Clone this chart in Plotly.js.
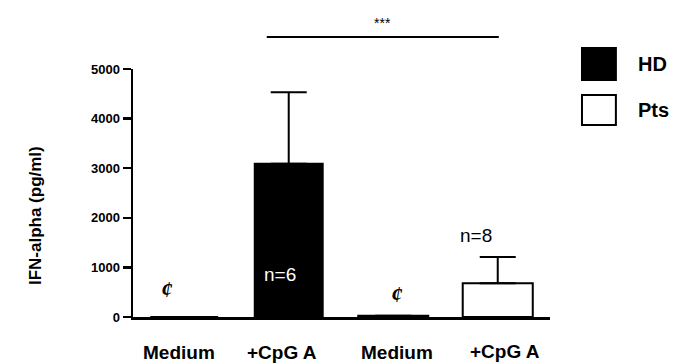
<!DOCTYPE html>
<html>
<head>
<meta charset="utf-8">
<script src="https://cdn.plot.ly/plotly-3.0.1.min.js"></script>
<style>html,body{margin:0;padding:0;background:#fff;}#chart{width:673px;height:363px;}</style>
</head>
<body>
<div id="chart"></div>
<script>
// ---- data ----
var groups = ["HD", "Pts"];
var categories = ["Medium", "+CpG A", "Medium", "+CpG A"];
var hdPositions = [0, 1];
var ptsPositions = [2, 3];
var hdValues = [0, 3090];
var hdErrors = [0, 1440];
var ptsValues = [25, 680];
var ptsErrors = [0, 530];
var noErrorBelow = [0, 0];
var nLabels = ["n=6", "n=8"];
var notDetected = "¢";
var sigLabel = "***";
var yTickVals = [0, 1000, 2000, 3000, 4000, 5000];
var yTitle = "IFN-alpha (pg/ml)";

var traces = [
  {
    type: "bar", name: groups[0], x: hdPositions, y: hdValues, width: 0.65,
    marker: {color: "#000", line: {color: "#000", width: 2}},
    error_y: {type: "data", symmetric: false, array: hdErrors, arrayminus: noErrorBelow, visible: true, color: "#000", thickness: 2, width: 18},
    showlegend: false
  },
  {
    type: "bar", name: groups[1], x: ptsPositions, y: ptsValues, width: 0.67,
    marker: {color: "#fff", line: {color: "#000", width: 2}},
    error_y: {type: "data", symmetric: false, array: ptsErrors, arrayminus: noErrorBelow, visible: true, color: "#000", thickness: 2, width: 18},
    showlegend: false
  }
];

var allPos = hdPositions.concat(ptsPositions);
var labelShift = [-5, -7, 4, 7];
var labelY = [-35, -35, -35, -34];
var annotations = [];
categories.forEach(function (c, i) {
  annotations.push({
    x: allPos[i], y: 0, xref: "x", yref: "y", text: c, showarrow: false, yanchor: "middle", borderpad: 0,
    xshift: labelShift[i], yshift: labelY[i],
    font: {family: "Liberation Sans, Arial", size: 19, color: "#000", weight: "bold"}
  });
});
// not detected markers
annotations.push({x: hdPositions[0], y: 545, xref: "x", yref: "y", text: notDetected, showarrow: false, xshift: -17, yanchor: "middle",
  font: {family: "Liberation Serif", size: 23, color: "#000", weight: "bold", style: "italic"}});
annotations.push({x: ptsPositions[0], y: 445, xref: "x", yref: "y", text: notDetected, showarrow: false, xshift: 4, yanchor: "middle",
  font: {family: "Liberation Serif", size: 23, color: "#000", weight: "bold", style: "italic"}});
// n labels
annotations.push({x: hdPositions[1], y: 850, xref: "x", yref: "y", text: nLabels[0], showarrow: false, xshift: -9, yanchor: "middle",
  font: {family: "Liberation Sans, Arial", size: 19, color: "#fff"}});
annotations.push({x: ptsPositions[1], y: 1650, xref: "x", yref: "y", text: nLabels[1], showarrow: false, xshift: -22, yanchor: "middle",
  font: {family: "Liberation Sans, Arial", size: 19, color: "#000"}});
// significance
annotations.push({x: 1.9, y: 1.185, xref: "x", yref: "paper", text: sigLabel, showarrow: false, yanchor: "middle",
  font: {family: "Liberation Sans, Arial", size: 14, color: "#000"}});
// y title
annotations.push({x: -0.235, y: 0.407, xref: "paper", yref: "paper", text: yTitle, showarrow: false, textangle: -90,
  xanchor: "center", yanchor: "middle",
  font: {family: "Liberation Sans, Arial", size: 17, color: "#000", weight: "bold"}});
// legend texts
annotations.push({x: 1.206, y: 1.02, xref: "paper", yref: "paper", text: groups[0], showarrow: false, xanchor: "left", yanchor: "middle",
  font: {family: "Liberation Sans, Arial", size: 20, color: "#000", weight: "bold"}});
annotations.push({x: 1.206, y: 0.835, xref: "paper", yref: "paper", text: groups[1], showarrow: false, xanchor: "left", yanchor: "middle",
  font: {family: "Liberation Sans, Arial", size: 20, color: "#000", weight: "bold"}});

var shapes = [
  {type: "line", xref: "x", yref: "paper", x0: 0.79, x1: 3.01, y0: 1.129, y1: 1.129, line: {color: "#000", width: 2}},
  {type: "rect", xref: "paper", yref: "paper", x0: 1.0767, x1: 1.158, y0: 0.9556, y1: 1.0847, fillcolor: "#000", line: {color: "#000", width: 2}},
  {type: "rect", xref: "paper", yref: "paper", x0: 1.0767, x1: 1.158, y0: 0.774, y1: 0.895, fillcolor: "#fff", line: {color: "#000", width: 2}}
];

var layout = {
  width: 673, height: 363,
  margin: {l: 133, r: 123, t: 69, b: 46},
  paper_bgcolor: "#fff", plot_bgcolor: "#fff",
  showlegend: false,
  bargap: 0,
  xaxis: {range: [-0.49, 3.5], showticklabels: false, ticks: "", showgrid: false, zeroline: false,
    showline: true, linecolor: "#000", linewidth: 3, fixedrange: true},
  yaxis: {range: [0, 5000], tickvals: yTickVals, ticks: "outside", ticklen: 8, tickwidth: 2.5, tickcolor: "#000",
    showgrid: false, zeroline: false, showline: true, linecolor: "#000", linewidth: 2.5,
    tickfont: {family: "Liberation Sans, Arial", size: 13, color: "#000", weight: "bold"}, ticklabelstandoff: 0},
  annotations: annotations,
  shapes: shapes
};

Plotly.newPlot("chart", traces, layout, {staticPlot: true, displayModeBar: false});
</script>
</body>
</html>
